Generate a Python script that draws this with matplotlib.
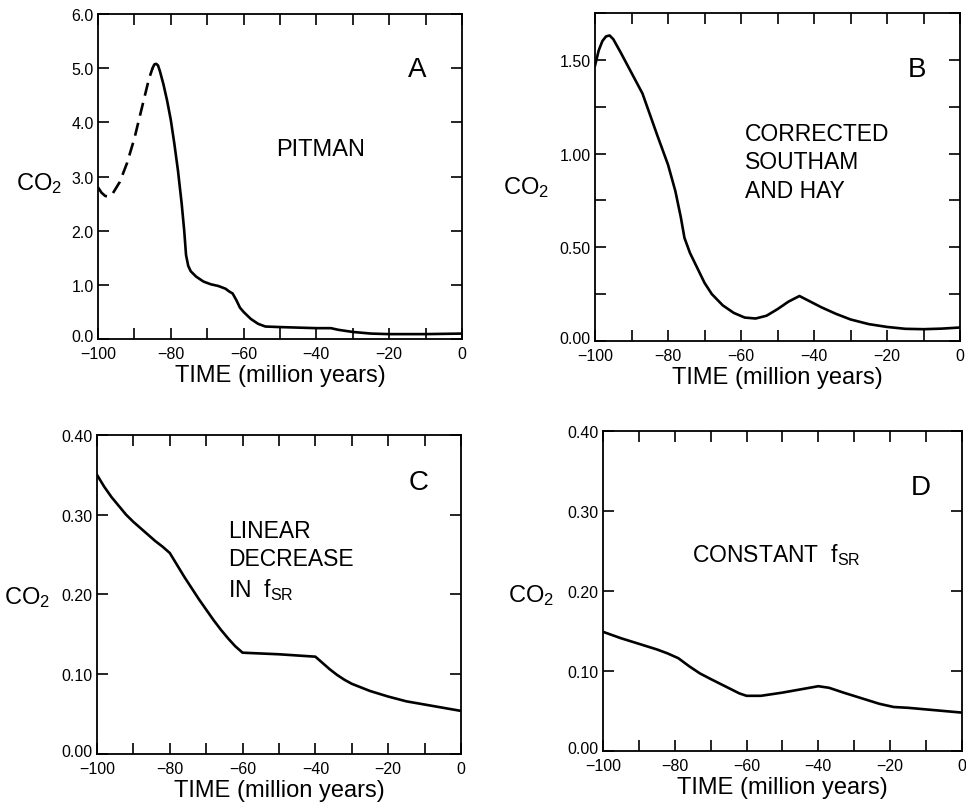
import numpy as np
import matplotlib
matplotlib.use("Agg")
import matplotlib.pyplot as plt
from matplotlib.ticker import MultipleLocator
from matplotlib.transforms import ScaledTranslation

plt.rcParams["font.family"] = ["Liberation Sans", "DejaVu Sans"]
plt.rcParams["mathtext.default"] = "regular"

# panel A: Pitman (dashed part before -85 My)
a_dash_x = [-100, -99, -98, -97, -96, -94, -92, -90, -88, -86, -85]
a_dash_y = [2.80, 2.70, 2.64, 2.63, 2.68, 2.90, 3.25, 3.70, 4.25, 4.80, 5.00]
a_x = [-85, -84.5, -84, -83.5, -83, -82, -81, -80, -79, -78, -77, -76.3, -75.8,
       -75.2, -74.5, -73, -71, -69, -67, -65, -64, -63, -62, -61, -60, -58, -56,
       -54, -50, -40, -36, -34, -30, -25, -20, -10, 0]
a_y = [5.00, 5.07, 5.08, 5.05, 4.95, 4.70, 4.40, 4.05, 3.60, 3.10, 2.50, 2.00, 1.55,
       1.35, 1.25, 1.15, 1.06, 1.01, 0.98, 0.93, 0.88, 0.84, 0.72, 0.58, 0.50, 0.37, 0.28,
       0.23, 0.22, 0.20, 0.20, 0.17, 0.13, 0.10, 0.09, 0.09, 0.10]

# panel B: corrected Southam and Hay
b_x = [-100, -99, -98, -97, -96, -95, -93, -90, -87, -85, -83, -80, -78, -76.5,
       -75.5, -74, -72, -70, -68, -65, -62, -59, -56, -53, -50, -47, -44, -42,
       -38, -34, -30, -25, -20, -15, -10, -5, 0]
b_y = [1.47, 1.55, 1.60, 1.625, 1.63, 1.61, 1.54, 1.43, 1.32, 1.21, 1.10, 0.94, 0.80, 0.66,
       0.55, 0.47, 0.39, 0.31, 0.25, 0.19, 0.15, 0.125, 0.12, 0.135, 0.17, 0.21, 0.24, 0.22,
       0.18, 0.145, 0.115, 0.09, 0.075, 0.065, 0.063, 0.066, 0.072]

# panel C: linear decrease in f_SR
c_x = [-100, -98, -96, -94, -92, -90, -88, -86, -84, -82, -80, -78, -76, -74, -72,
       -70, -68, -66, -64, -62, -60, -50, -40, -38, -36, -34, -32, -30, -25, -20,
       -15, -10, -5, 0]
c_y = [0.350, 0.335, 0.322, 0.311, 0.300, 0.291, 0.283, 0.275, 0.267, 0.260, 0.252,
       0.237, 0.222, 0.208, 0.194, 0.181, 0.168, 0.156, 0.145, 0.135, 0.127, 0.125,
       0.122, 0.114, 0.106, 0.099, 0.093, 0.088, 0.079, 0.072, 0.066, 0.062, 0.058, 0.054]

# panel D: constant f_SR
d_x = [-100, -95, -90, -85, -82, -79, -76, -73, -70, -66, -62, -60, -56, -50, -45,
       -40, -37, -33, -28, -23, -19, -15, -10, -5, 0]
d_y = [0.149, 0.141, 0.134, 0.127, 0.122, 0.116, 0.106, 0.097, 0.090, 0.081, 0.072,
       0.069, 0.069, 0.073, 0.077, 0.081, 0.079, 0.073, 0.066, 0.059, 0.055, 0.054,
       0.052, 0.050, 0.048]

fig = plt.figure(figsize=(9.66, 8.03), dpi=100)

ax_a = fig.add_axes([0.1014, 0.5766, 0.3768, 0.4047])
ax_b = fig.add_axes([0.616, 0.5741, 0.3778, 0.4085])
ax_c = fig.add_axes([0.1004, 0.0598, 0.3768, 0.3973])
ax_d = fig.add_axes([0.6242, 0.0635, 0.3716, 0.3985])

lw = 1.9


def style(ax, ymax, ymajor, yminor, fmt, co2_pos):
    ax.set_xlim(-100, 0)
    ax.set_ylim(0, ymax)
    ticks = np.arange(-100, 1, 20)
    ax.set_xticks(ticks)
    ax.set_xticklabels([("\u2212%d" % -t) if t < 0 else "0" for t in ticks])
    ax.xaxis.set_minor_locator(MultipleLocator(10))
    yt = np.arange(0, ymax + 1e-9, ymajor)
    ax.set_yticks(yt)
    ax.set_yticklabels([fmt % v for v in yt])
    ax.yaxis.set_minor_locator(MultipleLocator(yminor))
    ax.tick_params(which="both", direction="in", top=True, right=True,
                   length=8, width=1.2, labelsize=11.5)
    ax.tick_params(axis="x", pad=5)
    ax.tick_params(axis="y", pad=3)
    # lift the bottom y label a bit so it clears the -100 label, like the original
    lab0 = ax.get_yticklabels()[0]
    lab0.set_transform(lab0.get_transform() + ScaledTranslation(0, 4 / 100, fig.dpi_scale_trans))
    for s in ax.spines.values():
        s.set_linewidth(1.3)
    ax.set_xlabel("TIME (million years)", fontsize=17, labelpad=2)
    ax.text(co2_pos[0], co2_pos[1], "CO$_2$", transform=ax.transAxes,
            ha="right", va="center", fontsize=17)


style(ax_a, 6.0, 1.0, 1.0, "%.1f", (-0.10, 0.48))
ax_a.plot(a_dash_x, a_dash_y, color="black", lw=lw, ls=(0, (5, 2.8)))
ax_a.plot(a_x, a_y, color="black", lw=lw)
ax_a.text(-12.4, 4.98, "A", fontsize=20, ha="center", va="center")
ax_a.text(-51, 3.5, "PITMAN", fontsize=17, ha="left", va="center")

style(ax_b, 1.75, 0.5, 0.25, "%.2f", (-0.125, 0.47))
ax_b.plot(b_x, b_y, color="black", lw=lw)
ax_b.text(-11.9, 1.45, "B", fontsize=20, ha="center", va="center")
ax_b.text(-59, 0.955, "CORRECTED\nSOUTHAM\nAND HAY", fontsize=16.5,
          ha="left", va="center", linespacing=1.3)

style(ax_c, 0.40, 0.10, 0.10, "%.2f", (-0.13, 0.495))
ax_c.plot(c_x, c_y, color="black", lw=lw)
ax_c.text(-11.7, 0.341, "C", fontsize=20, ha="center", va="center")
ax_c.text(-64, 0.243, "LINEAR\nDECREASE\nIN  f$_{SR}$", fontsize=16.5,
          ha="left", va="center", linespacing=1.3)

style(ax_d, 0.40, 0.10, 0.10, "%.2f", (-0.135, 0.49))
ax_d.plot(d_x, d_y, color="black", lw=lw)
ax_d.text(-11.6, 0.33, "D", fontsize=20, ha="center", va="center")
ax_d.text(-75.3, 0.246, "CONSTANT  f$_{SR}$", fontsize=16.5, ha="left", va="center")

fig.savefig("out.png", dpi=100)
